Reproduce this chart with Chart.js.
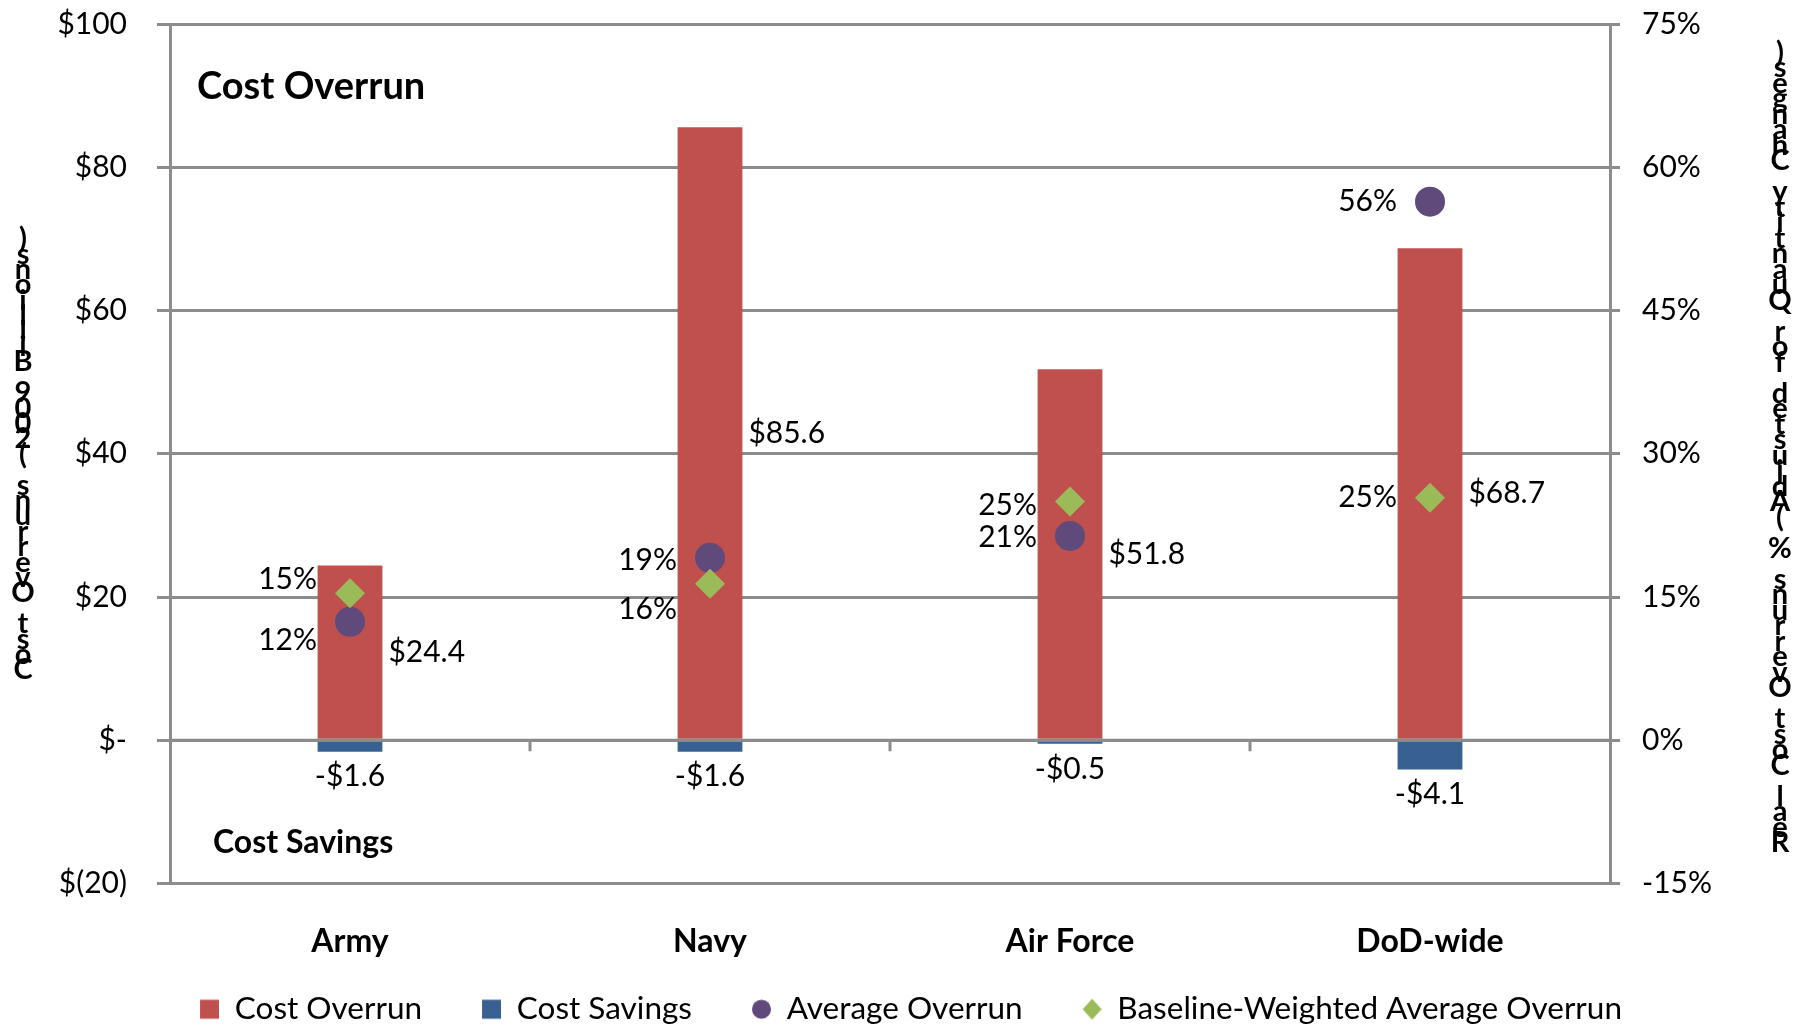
<!DOCTYPE html>
<html>
<head>
<meta charset="utf-8">
<script src="https://cdn.jsdelivr.net/npm/chart.js@4.4.1/dist/chart.umd.min.js"></script>
<style>
  html, body { margin: 0; padding: 0; background: #ffffff; }
  #wrap { width: 1803px; height: 1027px; }
</style>
</head>
<body>
<div id="wrap"><canvas id="chart" width="1803" height="1027"></canvas></div>
<script>
// ---- data ----
const categories = ['Army', 'Navy', 'Air Force', 'DoD-wide'];
const costOverrun = [24.4, 85.6, 51.8, 68.7];
const costSavings = [-1.6, -1.6, -0.5, -4.1];
const averageOverrun = [12.4, 19.1, 21.4, 56.4];
const baselineWeightedOverrun = [15.4, 16.4, 25.0, 25.4];
const leftTickValues = [-20, 0, 20, 40, 60, 80, 100];
const leftTickLabels = ['$(20)', '$-', '$20', '$40', '$60', '$80', '$100'];
const rightTickValues = [-15, 0, 15, 30, 45, 60, 75];
const rightTickLabels = ['-15%', '0%', '15%', '30%', '45%', '60%', '75%'];
const seriesNames = ['Cost Overrun', 'Cost Savings', 'Average Overrun', 'Baseline-Weighted Average Overrun'];
const leftAxisTitle = 'Cost Overruns (2009 Billions)';
const rightAxisTitle = 'Real Cost Overruns % (Adjusted for Quantity Changes)';
const overrunNote = 'Cost Overrun';
const savingsNote = 'Cost Savings';

// ---- styles ----
const RED = '#C0504D', BLUE = '#386192', PURPLE = '#604A7B', GREEN = '#9BBB59';
const GRID = '#8c8c8c';
const FONT = 'Lato';
Chart.defaults.font.family = FONT;
Chart.defaults.color = '#000';

// legend markers: a wide transparent slot with the marker at its right end
const LEGEND_SLOT = 49;
function legendMarker(kind, color) {
  const c = document.createElement('canvas');
  c.width = LEGEND_SLOT; c.height = 22;
  const g = c.getContext('2d');
  g.fillStyle = color;
  const cx = LEGEND_SLOT - 9.5;
  g.beginPath();
  if (kind === 'circle') {
    g.arc(cx, 11, 9.5, 0, Math.PI * 2);
  } else if (kind === 'diamond') {
    g.moveTo(cx, 0.5); g.lineTo(cx + 9.5, 11); g.lineTo(cx, 21.5); g.lineTo(cx - 9.5, 11); g.closePath();
  } else {
    g.rect(cx - 9.5, 1.5, 19, 19);
  }
  g.fill();
  return c;
}
const legendMarkers = [
  legendMarker('rect', RED),
  legendMarker('rect', BLUE),
  legendMarker('circle', PURPLE),
  legendMarker('diamond', GREEN)
];

const annotationPlugin = {
  id: 'annotations',
  afterDatasetsDraw(chart) {
    const ctx = chart.ctx;
    const xs = chart.scales.x, ys = chart.scales.y;
    const area = chart.chartArea;
    ctx.save();
    // category axis line at zero (drawn over the bars) with tick marks between categories
    const y0 = ys.getPixelForValue(0);
    ctx.strokeStyle = GRID;
    ctx.lineWidth = 3;
    ctx.beginPath();
    ctx.moveTo(area.left, y0); ctx.lineTo(area.right, y0);
    for (let i = 0; i < categories.length - 1; i++) {
      const bx = (xs.getPixelForTick(i) + xs.getPixelForTick(i + 1)) / 2;
      ctx.moveTo(bx, y0); ctx.lineTo(bx, y0 + 11);
    }
    ctx.stroke();

    ctx.fillStyle = '#000';
    ctx.textBaseline = 'middle';
    ctx.font = '30px ' + FONT;
    chart.getDatasetMeta(0).data.forEach((bar, i) => {
      ctx.textAlign = 'left';
      ctx.fillText('$' + costOverrun[i].toFixed(1), bar.x + bar.width / 2 + 6, (bar.y + bar.base) / 2);
    });
    chart.getDatasetMeta(1).data.forEach((bar, i) => {
      ctx.textAlign = 'center';
      ctx.fillText('-$' + Math.abs(costSavings[i]).toFixed(1), bar.x, Math.max(bar.y, bar.base) + 25);
    });
    const avgOffsets = [18, 2, 1, 0];
    const baseOffsets = [-14, 26, 4, 0];
    ctx.textAlign = 'right';
    chart.getDatasetMeta(2).data.forEach((pt, i) => {
      ctx.fillText(Math.round(averageOverrun[i]) + '%', pt.x - 33, pt.y + avgOffsets[i]);
    });
    chart.getDatasetMeta(3).data.forEach((pt, i) => {
      ctx.fillText(Math.round(baselineWeightedOverrun[i]) + '%', pt.x - 33, pt.y + baseOffsets[i]);
    });

    // in-plot notes
    ctx.textAlign = 'left';
    ctx.font = 'bold 38px ' + FONT;
    ctx.fillText(overrunNote, area.left + 27, area.top + 63);
    ctx.font = 'bold 32px ' + FONT;
    ctx.fillText(savingsNote, area.left + 43, ys.getPixelForValue(-20) - 41);

    // stacked axis titles (characters upright, bottom to top)
    ctx.font = 'bold 29px ' + FONT;
    ctx.textAlign = 'center';
    const drawStacked = (text, cx, yBottom, step) => {
      for (let i = 0; i < text.length; i++) {
        ctx.fillText(text[i], cx, yBottom - i * step);
      }
    };
    drawStacked(leftAxisTitle, 23, 670, 15.4);
    drawStacked(rightAxisTitle, 1780, 843, 15.5);
    ctx.restore();
  }
};

const ctx = document.getElementById('chart').getContext('2d');
new Chart(ctx, {
  data: {
    labels: categories,
    datasets: [
      { type: 'bar', label: seriesNames[0], data: costOverrun, backgroundColor: RED, yAxisID: 'y', order: 3 },
      { type: 'bar', label: seriesNames[1], data: costSavings, backgroundColor: BLUE, yAxisID: 'y', order: 3 },
      { type: 'line', label: seriesNames[2], data: averageOverrun, yAxisID: 'y1', showLine: false, order: 2,
        pointStyle: 'circle', pointRadius: 15, pointHoverRadius: 15, pointBorderWidth: 0,
        backgroundColor: PURPLE, borderColor: PURPLE, pointBackgroundColor: PURPLE, pointBorderColor: PURPLE },
      { type: 'line', label: seriesNames[3], data: baselineWeightedOverrun, yAxisID: 'y1', showLine: false, order: 1,
        pointStyle: 'rectRot', pointRadius: 15, pointHoverRadius: 15, pointBorderWidth: 0,
        backgroundColor: GREEN, borderColor: GREEN, pointBackgroundColor: GREEN, pointBorderColor: GREEN }
    ]
  },
  options: {
    responsive: false,
    animation: false,
    devicePixelRatio: 1,
    layout: { padding: { top: 24, left: -11, right: 0, bottom: -8 } },
    datasets: { bar: { categoryPercentage: 1, barPercentage: 0.18 } },
    plugins: {
      tooltip: { enabled: false },
      legend: {
        position: 'bottom',
        labels: {
          usePointStyle: true,
          pointStyleWidth: LEGEND_SLOT,
          boxWidth: LEGEND_SLOT,
          boxHeight: 19,
          padding: 30,
          color: '#000',
          font: { size: 31.5, family: FONT },
          sort: (a, b) => a.datasetIndex - b.datasetIndex,
          generateLabels: (chart) => {
            const items = Chart.defaults.plugins.legend.labels.generateLabels(chart);
            items.forEach(it => {
              it.pointStyle = legendMarkers[it.datasetIndex];
              it.lineWidth = 0;
            });
            return items;
          }
        }
      }
    },
    scales: {
      x: {
        stacked: true,
        grid: { display: false },
        border: { display: false },
        ticks: { font: { size: 32, weight: 'bold', family: FONT }, color: '#000', padding: 31 },
        afterFit: (s) => { s.height = 80; }
      },
      y: {
        position: 'left',
        stacked: true,
        min: -20, max: 100,
        afterBuildTicks: (s) => { s.ticks = leftTickValues.map(v => ({ value: v })); },
        ticks: {
          callback: (v) => leftTickLabels[leftTickValues.indexOf(v)],
          font: { size: 30, family: FONT }, color: '#000', padding: 30
        },
        grid: { color: GRID, lineWidth: 3, tickLength: 13, drawTicks: true },
        border: { display: true, color: GRID, width: 3 },
        afterFit: (s) => { s.width = 181; s.paddingTop = 0; s.paddingBottom = 0; }
      },
      y1: {
        position: 'right',
        min: -15, max: 75,
        afterBuildTicks: (s) => { s.ticks = rightTickValues.map(v => ({ value: v })); },
        ticks: {
          callback: (v) => rightTickLabels[rightTickValues.indexOf(v)],
          font: { size: 30, family: FONT }, color: '#000', padding: 22
        },
        grid: { drawOnChartArea: false, color: GRID, lineWidth: 3, tickLength: 10 },
        border: { display: true, color: GRID, width: 3 },
        afterFit: (s) => { s.width = 193; s.paddingTop = 0; s.paddingBottom = 0; }
      }
    }
  },
  plugins: [annotationPlugin]
});
</script>
</body>
</html>
